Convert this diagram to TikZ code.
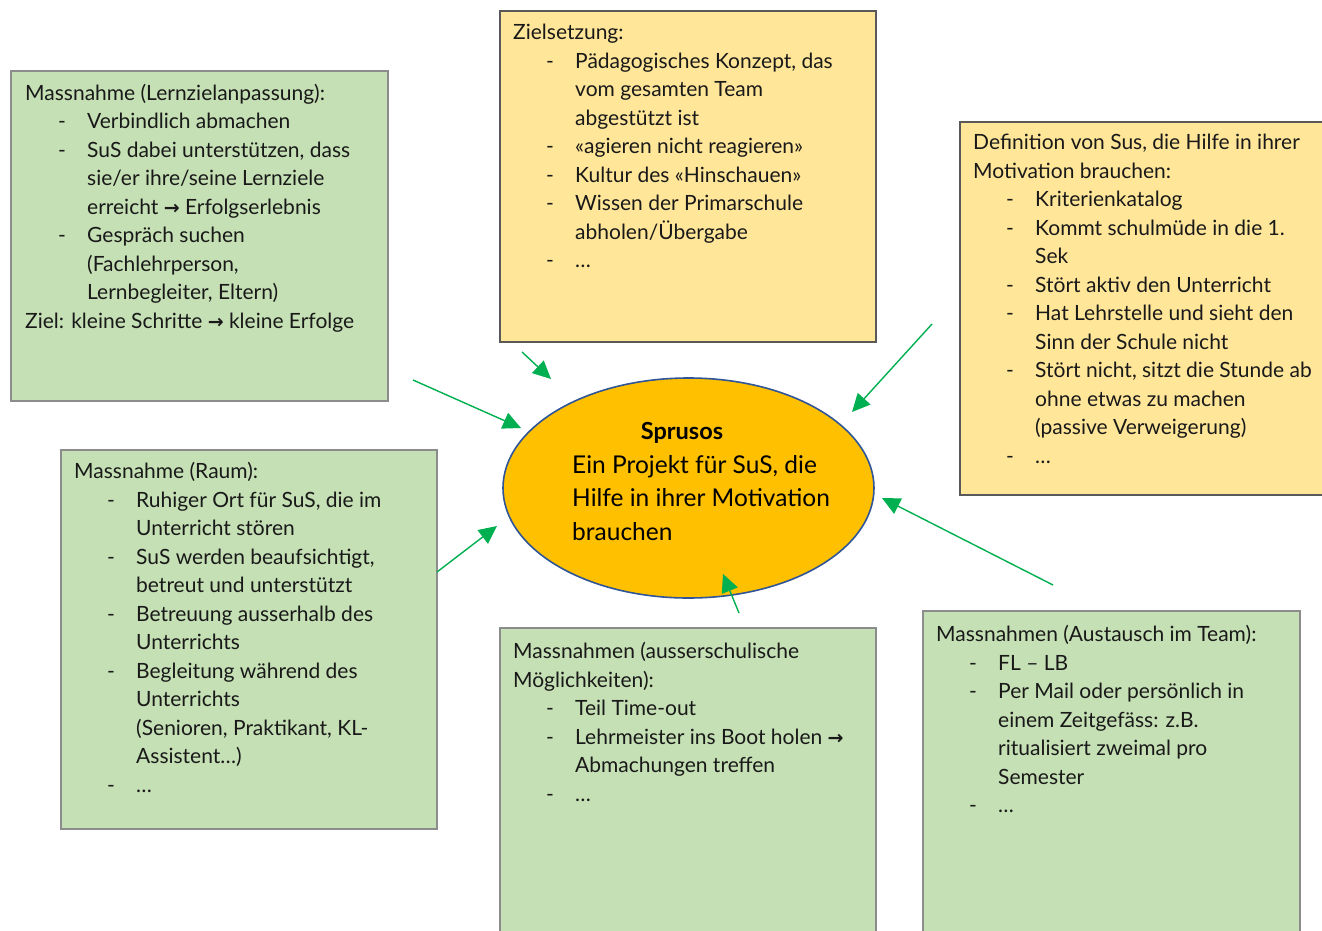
\documentclass[tikz,border=0pt]{standalone}
\usepackage{fontspec}
\setmainfont{Lato}
\newfontfamily\symf{DejaVu Sans}
\usetikzlibrary{shapes.geometric,arrows.meta}
\definecolor{boxgreen}{HTML}{C5E0B4}
\definecolor{boxyellow}{HTML}{FFE699}
\definecolor{ellfill}{HTML}{FFC000}
\definecolor{ellline}{HTML}{2F5597}
\definecolor{arrgreen}{HTML}{00B050}
\newcommand\bitem{\makebox[62pt][l]{\hspace{33pt}-}}
\newcommand\bcont{\makebox[62pt]{}}
\newcommand\rarr{{\symf\bfseries\fontsize{19}{19}\selectfont →}}
\tikzset{
  gbox/.style={draw=black!45, line width=1.2pt, fill=boxgreen},
  ybox/.style={draw=black!65, line width=1.2pt, fill=boxyellow},
  btext/.style={anchor=north west, inner sep=0pt, align=left, font=\fontsize{21}{28.5}\selectfont, text=black!90, execute at begin node={\rule{0pt}{15pt}}},
  arr/.style={draw=arrgreen, line width=1.4pt, -{Triangle[length=18pt,width=17pt]}},
}
\begin{document}
\begin{tikzpicture}[x=1pt,y=-1pt]
\useasboundingbox (0,0) rectangle (1322,930);
\clip (0,0) rectangle (1322,930);
% boxes
\draw[gbox] (11,71) rectangle (388,401);
\draw[ybox] (500,11) rectangle (876,342);
\draw[ybox] (960,122) rectangle (1330,495);
\draw[gbox] (61,450) rectangle (437,829);
\draw[gbox] (500,628) rectangle (876,960);
\draw[gbox] (923,611) rectangle (1300,960);
% texts (top = first baseline - 15)
\node[btext] (tlz) at (25,84) {Massnahme (Lernzielanpassung):\\
\bitem Verbindlich abmachen\\
\bitem SuS dabei unterstützen, dass\\
\bcont sie/er ihre/seine Lernziele\\
\bcont erreicht \rarr{} Erfolgserlebnis\\
\bitem Gespräch suchen\\
\bcont (Fachlehrperson,\\
\bcont Lernbegleiter, Eltern)\\
Ziel: kleine Schritte \rarr{} kleine Erfolge};
\node[btext] (tziel) at (513,24) {Zielsetzung:\\
\bitem Pädagogisches Konzept, das\\
\bcont vom gesamten Team\\
\bcont abgestützt ist\\
\bitem «agieren nicht reagieren»\\
\bitem Kultur des «Hinschauen»\\
\bitem Wissen der Primarschule\\
\bcont abholen/Übergabe\\
\bitem …};
\node[btext] (tdef) at (973,134) {Definition von Sus, die Hilfe in ihrer\\
Motivation brauchen:\\
\bitem Kriterienkatalog\\
\bitem Kommt schulmüde in die 1.\\
\bcont Sek\\
\bitem Stört aktiv den Unterricht\\
\bitem Hat Lehrstelle und sieht den\\
\bcont Sinn der Schule nicht\\
\bitem Stört nicht, sitzt die Stunde ab\\
\bcont ohne etwas zu machen\\
\bcont (passive Verweigerung)\\
\bitem …};
\node[btext] (traum) at (74,462) {Massnahme (Raum):\\
\bitem Ruhiger Ort für SuS, die im\\
\bcont Unterricht stören\\
\bitem SuS werden beaufsichtigt,\\
\bcont betreut und unterstützt\\
\bitem Betreuung ausserhalb des\\
\bcont Unterrichts\\
\bitem Begleitung während des\\
\bcont Unterrichts\\
\bcont (Senioren, Praktikant, KL-\\
\bcont Assistent…)\\
\bitem …};
\node[btext] (taus) at (513,642) {Massnahmen (ausserschulische\\
Möglichkeiten):\\
\bitem Teil Time-out\\
\bitem Lehrmeister ins Boot holen \rarr\\
\bcont Abmachungen treffen\\
\bitem …};
\node[btext] (tteam) at (936,625) {Massnahmen (Austausch im Team):\\
\bitem FL – LB\\
\bitem Per Mail oder persönlich in\\
\bcont einem Zeitgefäss: z.B.\\
\bcont ritualisiert zweimal pro\\
\bcont Semester\\
\bitem …};
% ellipse
\node[ellipse, draw=ellline, line width=1.6pt, fill=ellfill, minimum width=371pt, minimum height=220pt, inner sep=0pt] (ell) at (688.5,488) {};
\node[anchor=base, inner sep=0pt, font=\bfseries\fontsize{23.5}{23.5}\selectfont] (tsp) at (682,439) {Sprusos};
\node[anchor=north west, inner sep=0pt, align=left, font=\fontsize{24.5}{33.5}\selectfont, execute at begin node={\rule{0pt}{18pt}}] (tell) at (572,455) {Ein Projekt für SuS, die\\Hilfe in ihrer Motivation\\brauchen};
% arrows
\coordinate (a1s) at (413,380); \coordinate (a1e) at (521,428);
\coordinate (a2s) at (522,352); \coordinate (a2e) at (551,379);
\coordinate (a3s) at (932,324); \coordinate (a3e) at (852,412);
\coordinate (a4s) at (437,572); \coordinate (a4e) at (497,526);
\coordinate (a5s) at (739,613); \coordinate (a5e) at (723,574);
\coordinate (a6s) at (1053,585); \coordinate (a6e) at (882,498);
\draw[arr] (a1s) -- (a1e);
\draw[arr] (a2s) -- (a2e);
\draw[arr] (a3s) -- (a3e);
\draw[arr] (a4s) -- (a4e);
\draw[arr] (a5s) -- (a5e);
\draw[arr] (a6s) -- (a6e);
\end{tikzpicture}
\end{document}
